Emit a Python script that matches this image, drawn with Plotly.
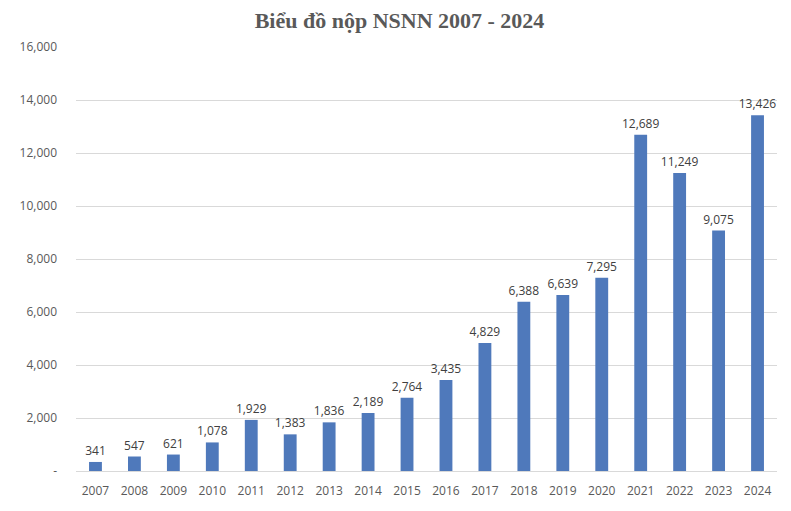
import plotly.graph_objects as go

years = [str(y) for y in range(2007, 2025)]
values = [341, 547, 621, 1078, 1929, 1383, 1836, 2189, 2764, 3435, 4829, 6388, 6639, 7295, 12689, 11249, 9075, 13426]
labels = [f"{v:,}" for v in values]
ytick_vals = [0, 2000, 4000, 6000, 8000, 10000, 12000, 14000, 16000]
ytick_text = ["-", "2,000", "4,000", "6,000", "8,000", "10,000", "12,000", "14,000", "16,000"]

fig = go.Figure(go.Bar(
    x=years, y=values, text=labels, textposition="outside",
    constraintext="none",
    textfont=dict(family="Open Sans", size=12, color="#404040"),
    marker=dict(color="#4f79bb", line=dict(width=0)),
    cliponaxis=False,
))
fig.update_layout(
    width=783, height=503,
    margin=dict(l=60, r=14, t=39, b=37),
    paper_bgcolor="white", plot_bgcolor="white",
    bargap=0.67,
    showlegend=False,
    title=dict(text="<b>Biểu đồ nộp NSNN 2007 - 2024</b>", x=0.5, xanchor="center",
               y=0.976, yanchor="middle",
               font=dict(family="Liberation Serif", size=22, color="#595959")),
    xaxis=dict(type="category", tickfont=dict(family="Open Sans", size=12, color="#595959"),
               showline=True, linecolor="#d9d9d9", ticks="", showgrid=False,
               ticklabelstandoff=9),
    yaxis=dict(range=[0, 16000], tickvals=ytick_vals, ticktext=ytick_text,
               tickfont=dict(family="Open Sans", size=12, color="#595959"),
               showgrid=True, gridcolor="#d9d9d9", zeroline=False, ticks="",
               ticklabelstandoff=18),
)
fig.write_html("out.html")
